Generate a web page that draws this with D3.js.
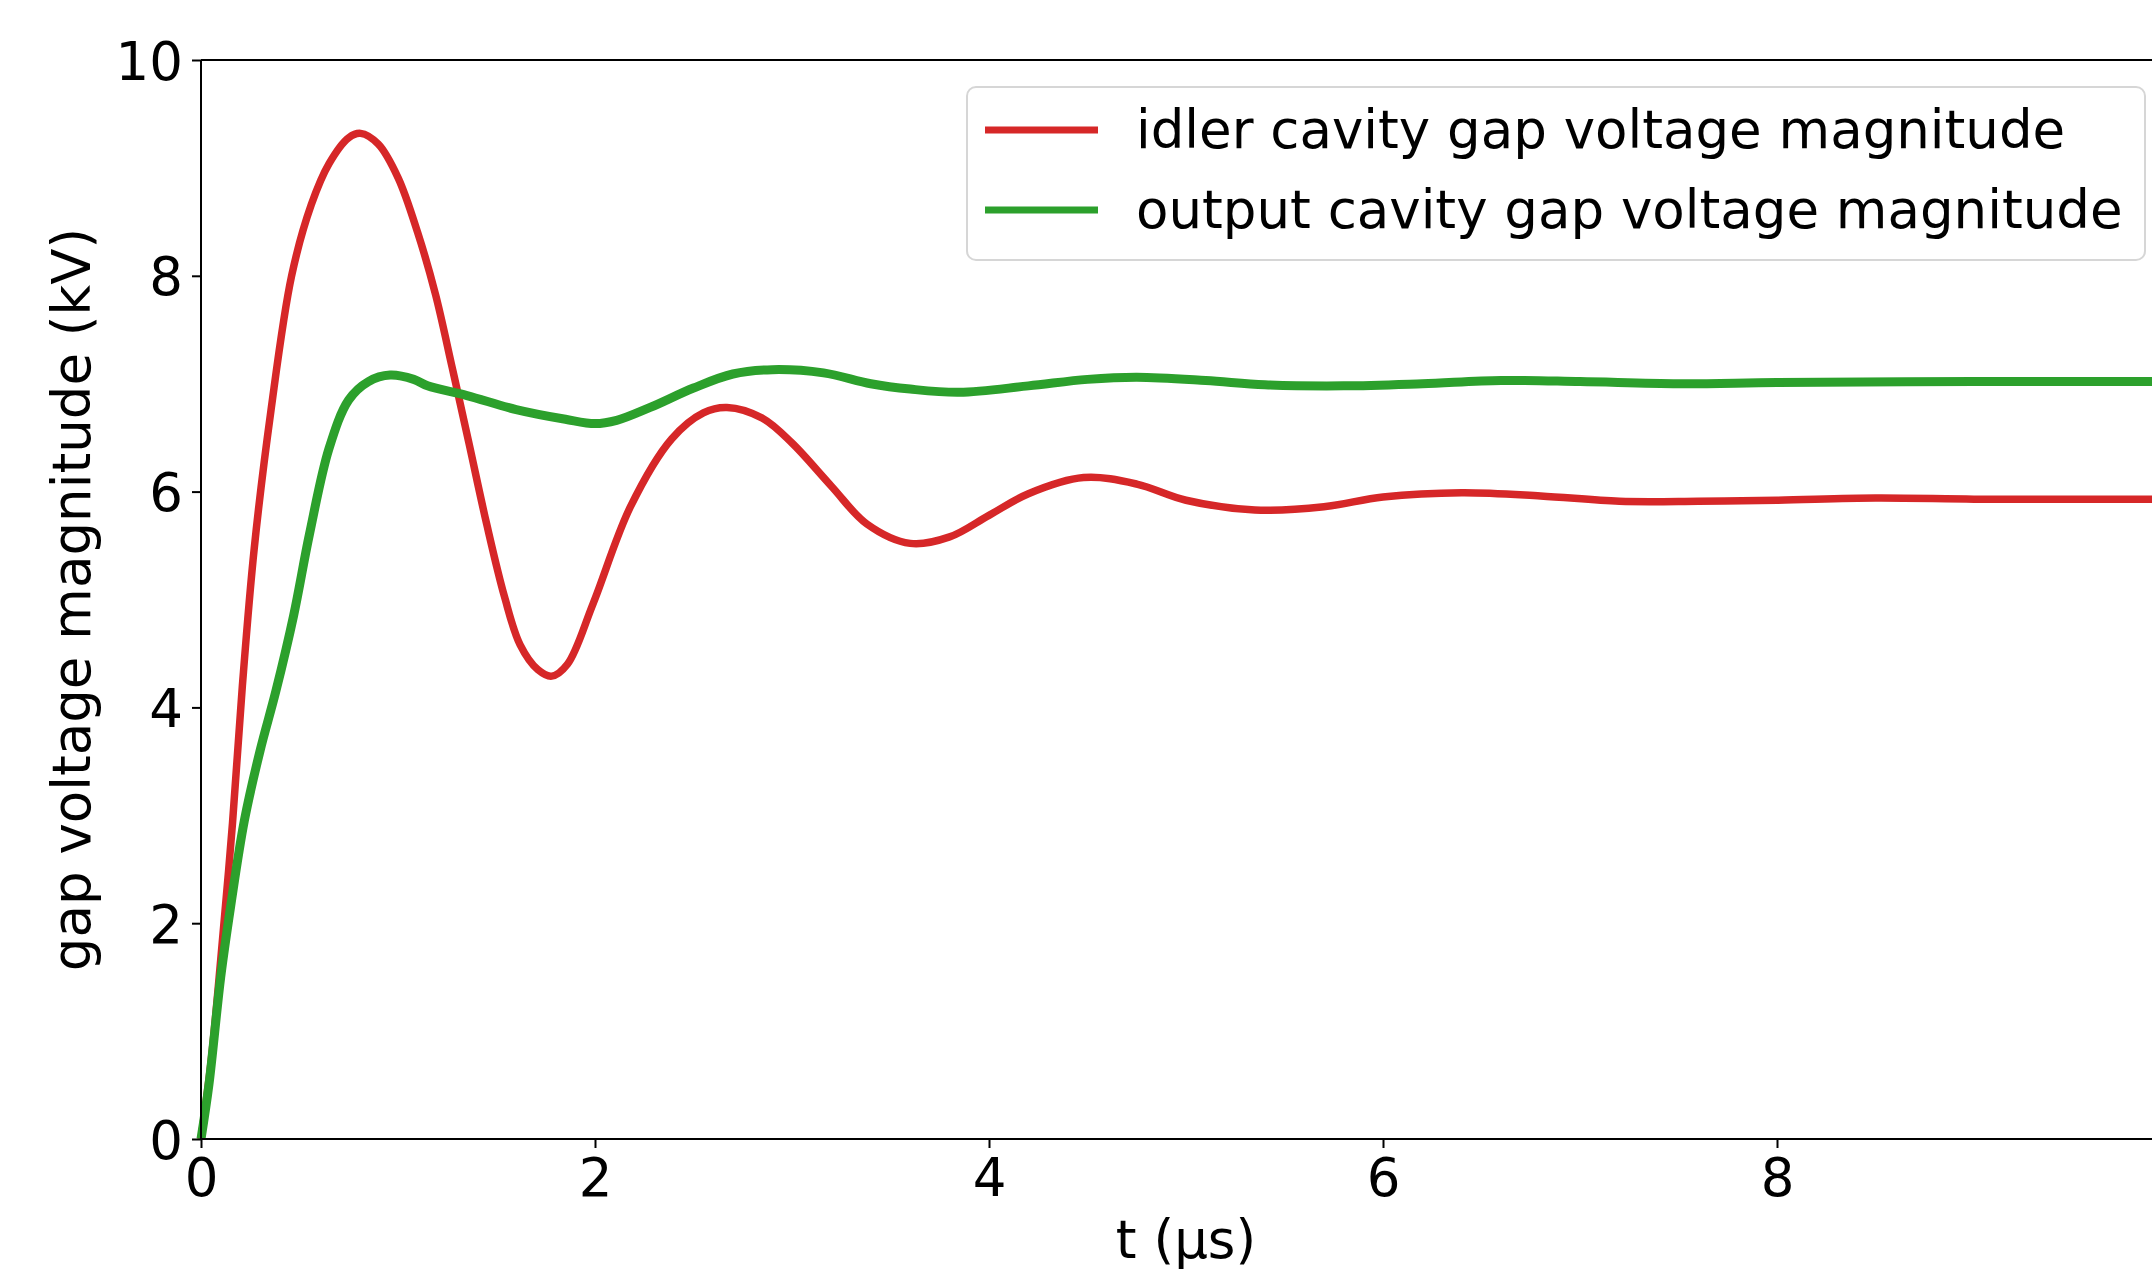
<!DOCTYPE html>
<html>
<head>
<meta charset="utf-8">
<script src="https://cdn.jsdelivr.net/npm/d3@7"></script>
<style>
  html, body { margin: 0; padding: 0; background: #fff; }
  svg { display: block; }
  text { font-family: "DejaVu Sans", sans-serif; fill: #000; }
</style>
</head>
<body>
<svg id="chart" width="2152" height="1273"></svg>
<script>
//
// Data
//

// time in microseconds, idler cavity
var idlerT = [0, 0.05, 0.10, 0.16, 0.21, 0.27, 0.355, 0.46, 0.56, 0.65, 0.75, 0.81, 0.90, 1.00, 1.10, 1.19, 1.275, 1.36, 1.45, 1.54, 1.62, 1.71, 1.78, 1.86, 1.99, 2.18, 2.39, 2.55, 2.67, 2.85, 3.00, 3.20, 3.38, 3.60, 3.80, 4.00, 4.20, 4.48, 4.75, 5.00, 5.35, 5.70, 6.00, 6.40, 6.80, 7.20, 7.60, 8.00, 8.50, 9.00, 9.50, 10.0]
var idlerV = [0, 0.7, 1.66, 2.93, 4.2, 5.47, 6.75, 8.0, 8.66, 9.04, 9.28, 9.32, 9.22, 8.91, 8.40, 7.83, 7.15, 6.45, 5.70, 5.03, 4.58, 4.35, 4.29, 4.40, 4.96, 5.86, 6.49, 6.73, 6.78, 6.68, 6.45, 6.05, 5.7, 5.52, 5.58, 5.78, 5.98, 6.13, 6.07, 5.92, 5.83, 5.86, 5.95, 5.99, 5.96, 5.91, 5.91, 5.92, 5.94, 5.93, 5.93, 5.93]

// time in microseconds, output cavity
var outputT = [0, 0.04, 0.10, 0.15, 0.22, 0.30, 0.38, 0.47, 0.55, 0.65, 0.75, 0.85, 0.96, 1.08, 1.15, 1.35, 1.60, 1.85, 2.00, 2.11, 2.28, 2.50, 2.70, 2.90, 3.16, 3.40, 3.60, 3.85, 4.20, 4.50, 4.75, 5.10, 5.40, 5.80, 6.20, 6.60, 7.00, 7.50, 8.00, 9.00, 10.0]
var outputV = [0, 0.5, 1.5, 2.15, 2.95, 3.6, 4.15, 4.85, 5.6, 6.4, 6.85, 7.02, 7.08, 7.04, 6.98, 6.89, 6.76, 6.67, 6.63, 6.66, 6.78, 6.96, 7.09, 7.13, 7.10, 7.0, 6.95, 6.92, 6.98, 7.04, 7.06, 7.03, 6.99, 6.98, 7.0, 7.03, 7.02, 7.0, 7.01, 7.02, 7.02]

var xTicks = [0, 2, 4, 6, 8]
var yTicks = [0, 2, 4, 6, 8, 10]
var seriesNames = ['idler cavity gap voltage magnitude', 'output cavity gap voltage magnitude']

//
// Configuration
//

var colorIdler = '#d62728'
var colorOutput = '#2ca02c'
var fontSize = 53
var margin = { left: 201, top: 60, right: 2171, bottom: 1139 }

//
// Setup
//

var svg = d3.select('#chart')
var x = d3.scaleLinear().domain([0, 10]).range([margin.left, margin.right])
var y = d3.scaleLinear().domain([0, 10]).range([margin.bottom, margin.top])

var line = d3.line()
  .x(function(d) { return x(d[0]) })
  .y(function(d) { return y(d[1]) })
  .curve(d3.curveCatmullRom.alpha(0.5))

function pairs(ts, vs) {
  return ts.map(function(t, i) { return [t, vs[i]] })
}

//
// Lines
//

svg.append('path')
  .datum(pairs(idlerT, idlerV))
  .attr('d', line)
  .attr('fill', 'none')
  .attr('stroke', colorIdler)
  .attr('stroke-width', 7.5)
  .attr('stroke-linejoin', 'round')

svg.append('path')
  .datum(pairs(outputT, outputV))
  .attr('d', line)
  .attr('fill', 'none')
  .attr('stroke', colorOutput)
  .attr('stroke-width', 9)
  .attr('stroke-linejoin', 'round')

//
// Axes
//

var xAxis = svg.append('g')
  .attr('transform', 'translate(0,' + margin.bottom + ')')
  .call(d3.axisBottom(x).tickValues(xTicks).tickSize(9).tickPadding(9).tickFormat(d3.format('d')))
var yAxis = svg.append('g')
  .attr('transform', 'translate(' + margin.left + ',0)')
  .call(d3.axisLeft(y).tickValues(yTicks).tickSize(9).tickPadding(9).tickFormat(d3.format('d')))

svg.selectAll('.tick text')
  .style('font-size', fontSize + 'px')
  .style('font-family', '"DejaVu Sans", sans-serif')
  .attr('fill', '#000')
svg.selectAll('.domain').remove()
svg.selectAll('.tick line').attr('stroke', '#000').attr('stroke-width', 2)
xAxis.selectAll('.tick text').attr('dy', null).attr('y', 57)
yAxis.selectAll('.tick text').attr('dy', '0.36em')

// spines
svg.append('line').attr('x1', margin.left).attr('x2', margin.left)
  .attr('y1', margin.top).attr('y2', margin.bottom)
  .attr('stroke', '#000').attr('stroke-width', 2)
svg.append('line').attr('x1', margin.left).attr('x2', margin.right)
  .attr('y1', margin.bottom).attr('y2', margin.bottom)
  .attr('stroke', '#000').attr('stroke-width', 2)
svg.append('line').attr('x1', margin.left).attr('x2', margin.right)
  .attr('y1', margin.top).attr('y2', margin.top)
  .attr('stroke', '#000').attr('stroke-width', 2)

// axis labels
svg.append('text')
  .attr('x', (margin.left + margin.right) / 2)
  .attr('y', 1258)
  .attr('text-anchor', 'middle')
  .style('font-size', fontSize + 'px')
  .text('t (μs)')

svg.append('text')
  .attr('transform', 'translate(90,' + (margin.top + margin.bottom) / 2 + ') rotate(-90)')
  .attr('text-anchor', 'middle')
  .style('font-size', fontSize + 'px')
  .text('gap voltage magnitude (kV)')

//
// Legend
//

var legend = svg.append('g')
legend.append('rect')
  .attr('x', 967).attr('y', 87)
  .attr('width', 1178).attr('height', 173)
  .attr('rx', 9).attr('ry', 9)
  .attr('fill', 'rgba(255,255,255,0.8)')
  .attr('stroke', '#d6d6d6')
  .attr('stroke-width', 2)

var legendColors = [colorIdler, colorOutput]
seriesNames.forEach(function(name, i) {
  var ly = 130 + i * 80
  legend.append('line')
    .attr('x1', 985).attr('x2', 1098)
    .attr('y1', ly).attr('y2', ly)
    .attr('stroke', legendColors[i])
    .attr('stroke-width', 7)
  legend.append('text')
    .attr('x', 1136).attr('y', ly + 18)
    .style('font-size', fontSize + 'px')
    .text(name)
})
</script>
</body>
</html>
